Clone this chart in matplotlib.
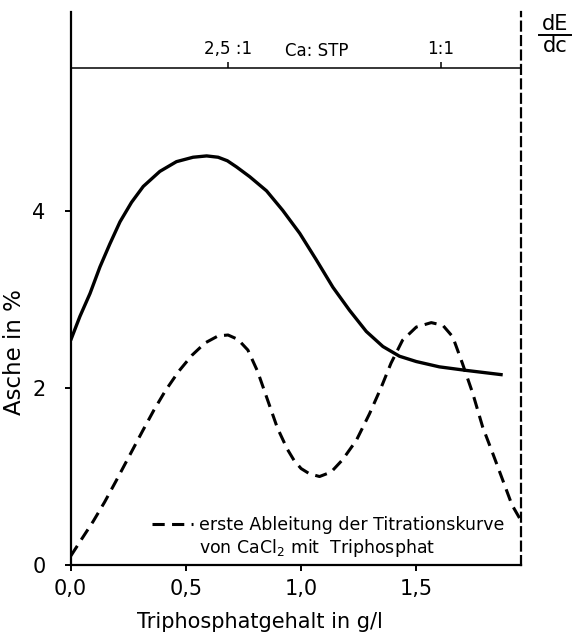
import numpy as np
import matplotlib
matplotlib.use("Agg")
import matplotlib.pyplot as plt
from matplotlib.lines import Line2D

# Asche (solid curve)
asche_x = [0.0, 0.040, 0.084, 0.127, 0.170, 0.214, 0.264, 0.315, 0.387, 0.459,
           0.531, 0.590, 0.640, 0.680, 0.720, 0.777, 0.850, 0.920, 0.994, 1.066,
           1.138, 1.210, 1.283, 1.355, 1.427, 1.500, 1.600, 1.716, 1.875]
asche_y = [2.54, 2.81, 3.07, 3.37, 3.63, 3.88, 4.10, 4.28, 4.45, 4.56,
           4.61, 4.625, 4.61, 4.57, 4.50, 4.39, 4.23, 4.01, 3.75, 3.45,
           3.14, 2.88, 2.64, 2.47, 2.36, 2.30, 2.24, 2.20, 2.15]

# dE/dc (dashed curve)
dedc_x = [0.0, 0.047, 0.097, 0.147, 0.197, 0.254, 0.311, 0.361, 0.411, 0.469,
          0.526, 0.583, 0.640, 0.683, 0.726, 0.769, 0.811, 0.854, 0.897,
          0.940, 0.970, 1.000, 1.037, 1.080, 1.130, 1.180, 1.240, 1.297, 1.348,
          1.390, 1.440, 1.500, 1.565, 1.615, 1.658, 1.700, 1.745, 1.788,
          1.832, 1.875, 1.915, 1.948]
dedc_y = [0.10, 0.29, 0.49, 0.71, 0.95, 1.23, 1.51, 1.75, 1.97, 2.19,
          2.37, 2.51, 2.59, 2.60, 2.55, 2.43, 2.19, 1.87, 1.55,
          1.31, 1.18, 1.09, 1.03, 1.00, 1.05, 1.19, 1.41, 1.71, 2.01,
          2.28, 2.54, 2.69, 2.74, 2.71, 2.58, 2.28, 1.94, 1.56,
          1.26, 0.96, 0.68, 0.53]

x_ticks = [0.0, 0.5, 1.0, 1.5]
x_ticklabels = ["0,0", "0,5", "1,0", "1,5"]
y_ticks = [0, 2, 4]

# Ca:STP ratio scale on top
ratio_pos = [0.682, 1.605]
ratio_labels = ["2,5 :1", "1:1"]
ratio_line_y = 5.62

xmax = 1.953
ymax = 6.25

fig = plt.figure(figsize=(5.77, 6.42), dpi=100)
ax = fig.add_axes([0.1225, 0.12, 0.7799, 0.861])

ax.plot(asche_x, asche_y, color="black", lw=2.4, solid_capstyle="butt",
        solid_joinstyle="round")
ax.plot(dedc_x, dedc_y, color="black", lw=2.2, linestyle=(0, (4, 2.4)))

ax.set_xlim(0, xmax)
ax.set_ylim(0, ymax)

for s in ["left", "bottom", "right"]:
    ax.spines[s].set_linewidth(1.6)
ax.spines["top"].set_visible(False)
ax.spines["right"].set_linestyle((0, (4, 2.5)))

ax.set_xticks(x_ticks)
ax.set_xticklabels(x_ticklabels)
ax.set_yticks(y_ticks)
ax.tick_params(axis="both", direction="out", length=4, width=1.4, labelsize=15)
ax.tick_params(axis="x", pad=6)
ax.tick_params(axis="y", pad=14)

ax.set_xlabel("Triphosphatgehalt in g/l", fontsize=15)
ax.xaxis.set_label_coords(0.42, -0.085)
ax.set_ylabel("Asche in %", fontsize=16.5)
ax.yaxis.set_label_coords(-0.1, 0.385)

# top ratio axis
top = ax.secondary_xaxis(ratio_line_y / ymax)
top.spines["top"].set_linewidth(1.1)
top.set_xticks(ratio_pos)
top.set_xticklabels(ratio_labels)
top.tick_params(direction="out", length=4, width=1.1, labelsize=12, pad=3)
ax.text(1.07, 5.715, "Ca: STP", fontsize=12, ha="center", va="bottom")

# dE/dc label at the right axis
fig.text(0.962, 0.963, "dE", fontsize=15, ha="center", va="center")
fig.text(0.962, 0.928, "dc", fontsize=15, ha="center", va="center")
fig.add_artist(Line2D([0.935, 0.99], [0.946, 0.946], color="black", lw=1.4))

# legend
handles = [Line2D([], [], color="black", lw=2.2, linestyle=(0, (4, 2.4))),
           Line2D([], [], linestyle="none")]
labels = ["erste Ableitung der Titrationskurve", "von CaCl$_2$ mit  Triphosphat"]
ax.legend(handles, labels, loc="lower left", bbox_to_anchor=(0.18, 0.01),
          frameon=False, fontsize=12.5, handlelength=2.4, handletextpad=0.3,
          labelspacing=0.2, borderpad=0, borderaxespad=0)

fig.savefig("out.png", dpi=100)
